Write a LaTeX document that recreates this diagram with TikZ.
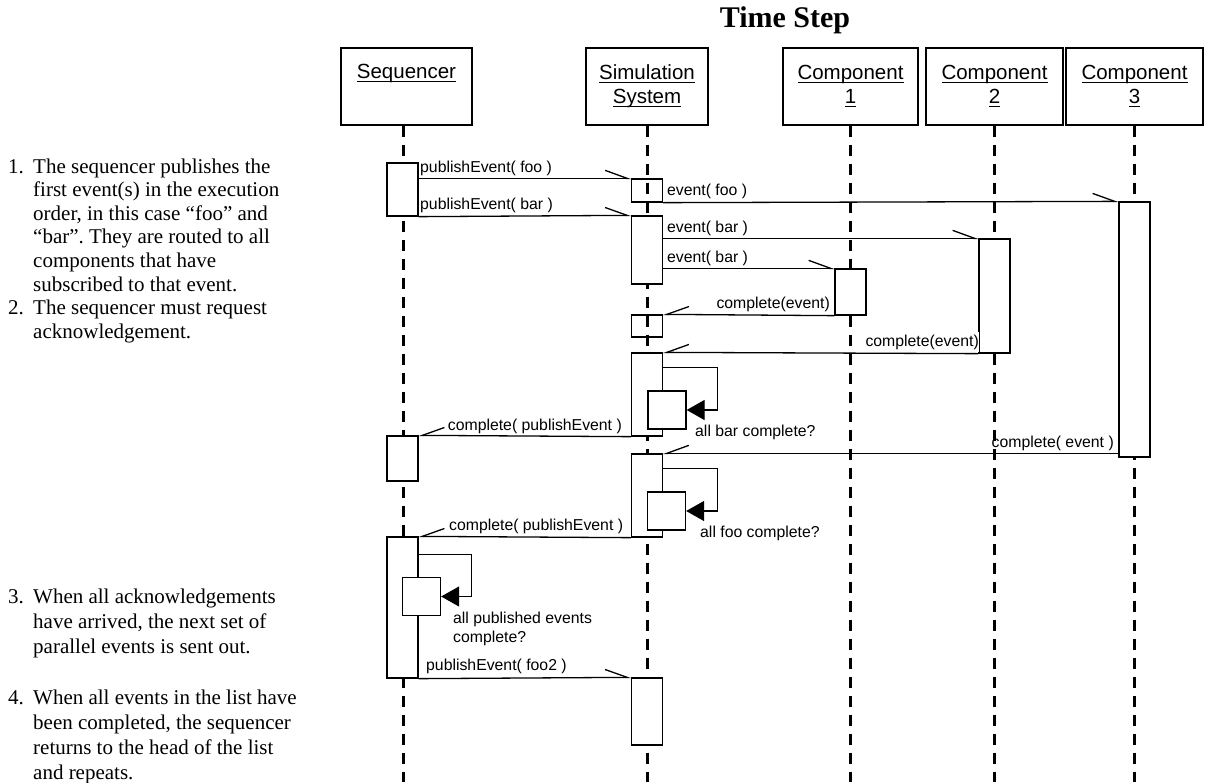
\documentclass[tikz,border=0pt]{standalone}
\usepackage{amsmath}
\usepackage{fontspec}
\setmainfont{Liberation Serif}
\newfontfamily\arialf{Liberation Sans}
\usetikzlibrary{arrows.meta}
\frenchspacing

\newcommand{\lname}[1]{\underline{\smash[b]{#1}}}

\tikzset{
  lifebox/.style={draw, line width=1.3pt, inner sep=0pt, minimum height=77pt, align=center, font=\arialf\fontsize{20.5}{24}\selectfont},
  lifeline/.style={line width=3pt, dash pattern=on 11pt off 8pt},
  act/.style={draw, fill=white, line width=1.3pt, minimum width=31pt, inner sep=0pt},
  chkbox/.style={draw, fill=white, line width=1.3pt, minimum size=38pt, inner sep=0pt},
  callmsg/.style={line width=1.3pt, -{Straight Barb[left,length=22pt,width=16pt]}},
  retmsg/.style={line width=1.3pt, -{Straight Barb[right,length=22pt,width=16pt]}},
  selfmsg/.style={line width=1.3pt, -{Triangle[length=18pt,width=20pt]}},
  lbl/.style={font=\arialf\fontsize{15.8}{19}\selectfont, inner sep=0pt},
  note/.style={font=\fontsize{21}{23.6}\selectfont, inner sep=0pt, anchor=base west}
}

\begin{document}
\begin{tikzpicture}[x=1pt,y=-1pt]
  \useasboundingbox (0,0) rectangle (1205,782);
  \coordinate (bot) at (0,782);     % bottom edge, where the lifelines stop
  \coordinate (seqx) at (403,0);    % sequencer lifeline sits a bit left of its box centre

  % title
  \node[font=\bfseries\fontsize{30}{33}\selectfont, anchor=base] (title) at (785,27) {Time Step};

  % object boxes
  \node[lifebox, minimum width=131pt] (seq) at (406.5,86.5) {\lname{Sequencer}\\ \strut};
  \node[lifebox, minimum width=122pt] (sim) at (647,86.5) {\lname{Simulation}\\ \lname{System}};
  \node[lifebox, minimum width=135pt] (cmpa) at (850.5,86.5) {\lname{Component}\\ \lname{1}};
  \node[lifebox, minimum width=137pt] (cmpb) at (994.5,86.5) {\lname{Component}\\ \lname{2}};
  \node[lifebox, minimum width=137pt] (cmpc) at (1134.5,86.5) {\lname{Component}\\ \lname{3}};

  % lifelines
  \draw[lifeline] (seq.south -| seqx) -- (bot -| seqx);
  \draw[lifeline] (sim.south) -- (sim.south |- bot);
  \draw[lifeline] (cmpa.south) -- (cmpa.south |- bot);
  \draw[lifeline] (cmpb.south) -- (cmpb.south |- bot);
  \draw[lifeline] (cmpc.south) -- (cmpc.south |- bot);

  % activations, sequencer
  \node[act, minimum height=53pt] (sq1) at (402.5,189.5) {};
  \node[act, minimum height=45pt] (sq2) at (402.5,458.5) {};
  \node[act, minimum height=141pt] (sq3) at (402.5,607.5) {};
  % activations, simulation system
  \node[act, fill=none, minimum height=23pt] (ss1) at (647,190.5) {};
  \node[act, minimum height=68pt] (ss2) at (647,250) {};
  \node[act, fill=none, minimum height=22pt] (ss3) at (647,326) {};
  \node[act, minimum height=83pt] (ss4) at (647,394.5) {};
  \node[act, minimum height=83pt] (ss5) at (647,495.5) {};
  \node[act, minimum height=67pt] (ss6) at (647,711.5) {};
  % activations, components
  \node[act, minimum height=46pt] (ca1) at (850.5,292) {};
  \node[act, minimum height=114pt] (cb1) at (994.5,296) {};
  \node[act, minimum height=255pt] (cc1) at (1134.5,329.5) {};

  % self checks
  \node[chkbox] (chk1) at (667,410) {};
  \node[chkbox] (chk2) at (666.5,511) {};
  \node[chkbox] (chk3) at (421.5,596.5) {};

  % message labels
  \node[lbl, anchor=base west] (lpf) at (420,172) {publishEvent( foo )};
  \node[lbl, anchor=base west] (lpb) at (420,209) {publishEvent( bar )};
  \node[lbl, anchor=base west] (lef) at (667,195) {event( foo )};
  \node[lbl, anchor=base west] (leb1) at (667,232) {event( bar )};
  \node[lbl, anchor=base west] (leb2) at (667,262) {event( bar )};
  \node[lbl, anchor=base east] (lce1) at (830,308) {complete(event)};
  \node[lbl, anchor=base east, fill=white, inner ysep=3pt] (lce2) at (979,346) {complete(event)};
  \node[lbl, anchor=base east] (lcp1) at (622,430) {complete( publishEvent )};
  \node[lbl, anchor=base east] (lce3) at (1114,447) {complete( event )};
  \node[lbl, anchor=base west] (lcp2) at (449,530) {complete( publishEvent )};
  \node[lbl, anchor=base west] (lpf2) at (426,670) {publishEvent( foo2 )};
  \node[lbl, anchor=base west] (lchk1) at (695,436) {all bar complete?};
  \node[lbl, anchor=base west] (lchk2) at (700,537) {all foo complete?};
  \node[lbl, anchor=base west, align=left] (lchk3) at (453,642) {all published events\\complete?};

  % messages
  \draw[callmsg] (sq1.east |- ss1.north) -- (ss1.north west);   % publishEvent foo
  \draw[callmsg] (sq1.south east) -- (ss2.north west);          % publishEvent bar
  \draw[callmsg] (ss1.south east) -- (cc1.north west);          % event foo
  \draw[callmsg] (ss2.east |- cb1.north) -- (cb1.north west);   % event bar to 2
  \draw[callmsg] (ss2.east |- ca1.north) -- (ca1.north west);   % event bar to 1
  \draw[retmsg] (ca1.south west) -- (ss3.north east);
  \draw[retmsg] (cb1.south west) -- (ss4.north east);
  \draw[retmsg] (ss4.south west) -- (sq2.north east);
  \draw[retmsg] (cc1.west |- ss5.north) -- (ss5.north east);
  \draw[retmsg] (ss5.south west) -- (sq3.north east);
  \draw[callmsg] (sq3.south east) -- (ss6.north west);          % publishEvent foo2

  % self calls
  \draw[selfmsg] ([yshift=-15pt]ss4.north east) -- ++(54,0) |- (chk1.east);
  \draw[selfmsg] ([yshift=-15pt]ss5.north east) -- ++(54,0) |- (chk2.east);
  \draw[selfmsg] ([yshift=-18pt]sq3.north east) -- ++(53,0) |- (chk3.east);

  % notes on the left
  \node[note] (n1) at (8,173) {\begin{tabular}[t]{@{}p{25pt}@{}l@{}}
    1.&The sequencer publishes the\\
    &first event(s) in the execution\\
    &order, in this case “foo” and\\
    &“bar”. They are routed to all\\
    &components that have\\
    &subscribed to that event.\\
    2.&The sequencer must request\\
    &acknowledgement.
  \end{tabular}};
  \node[note, font=\fontsize{21}{25}\selectfont] (n3) at (8,603) {\begin{tabular}[t]{@{}p{25pt}@{}l@{}}
    3.&When all acknowledgements\\
    &have arrived, the next set of\\
    &parallel events is sent out.
  \end{tabular}};
  \node[note, font=\fontsize{21}{25}\selectfont] (n4) at (8,704) {\begin{tabular}[t]{@{}p{25pt}@{}l@{}}
    4.&When all events in the list have\\
    &been completed, the sequencer\\
    &returns to the head of the list\\
    &and repeats.
  \end{tabular}};
\end{tikzpicture}
\end{document}
